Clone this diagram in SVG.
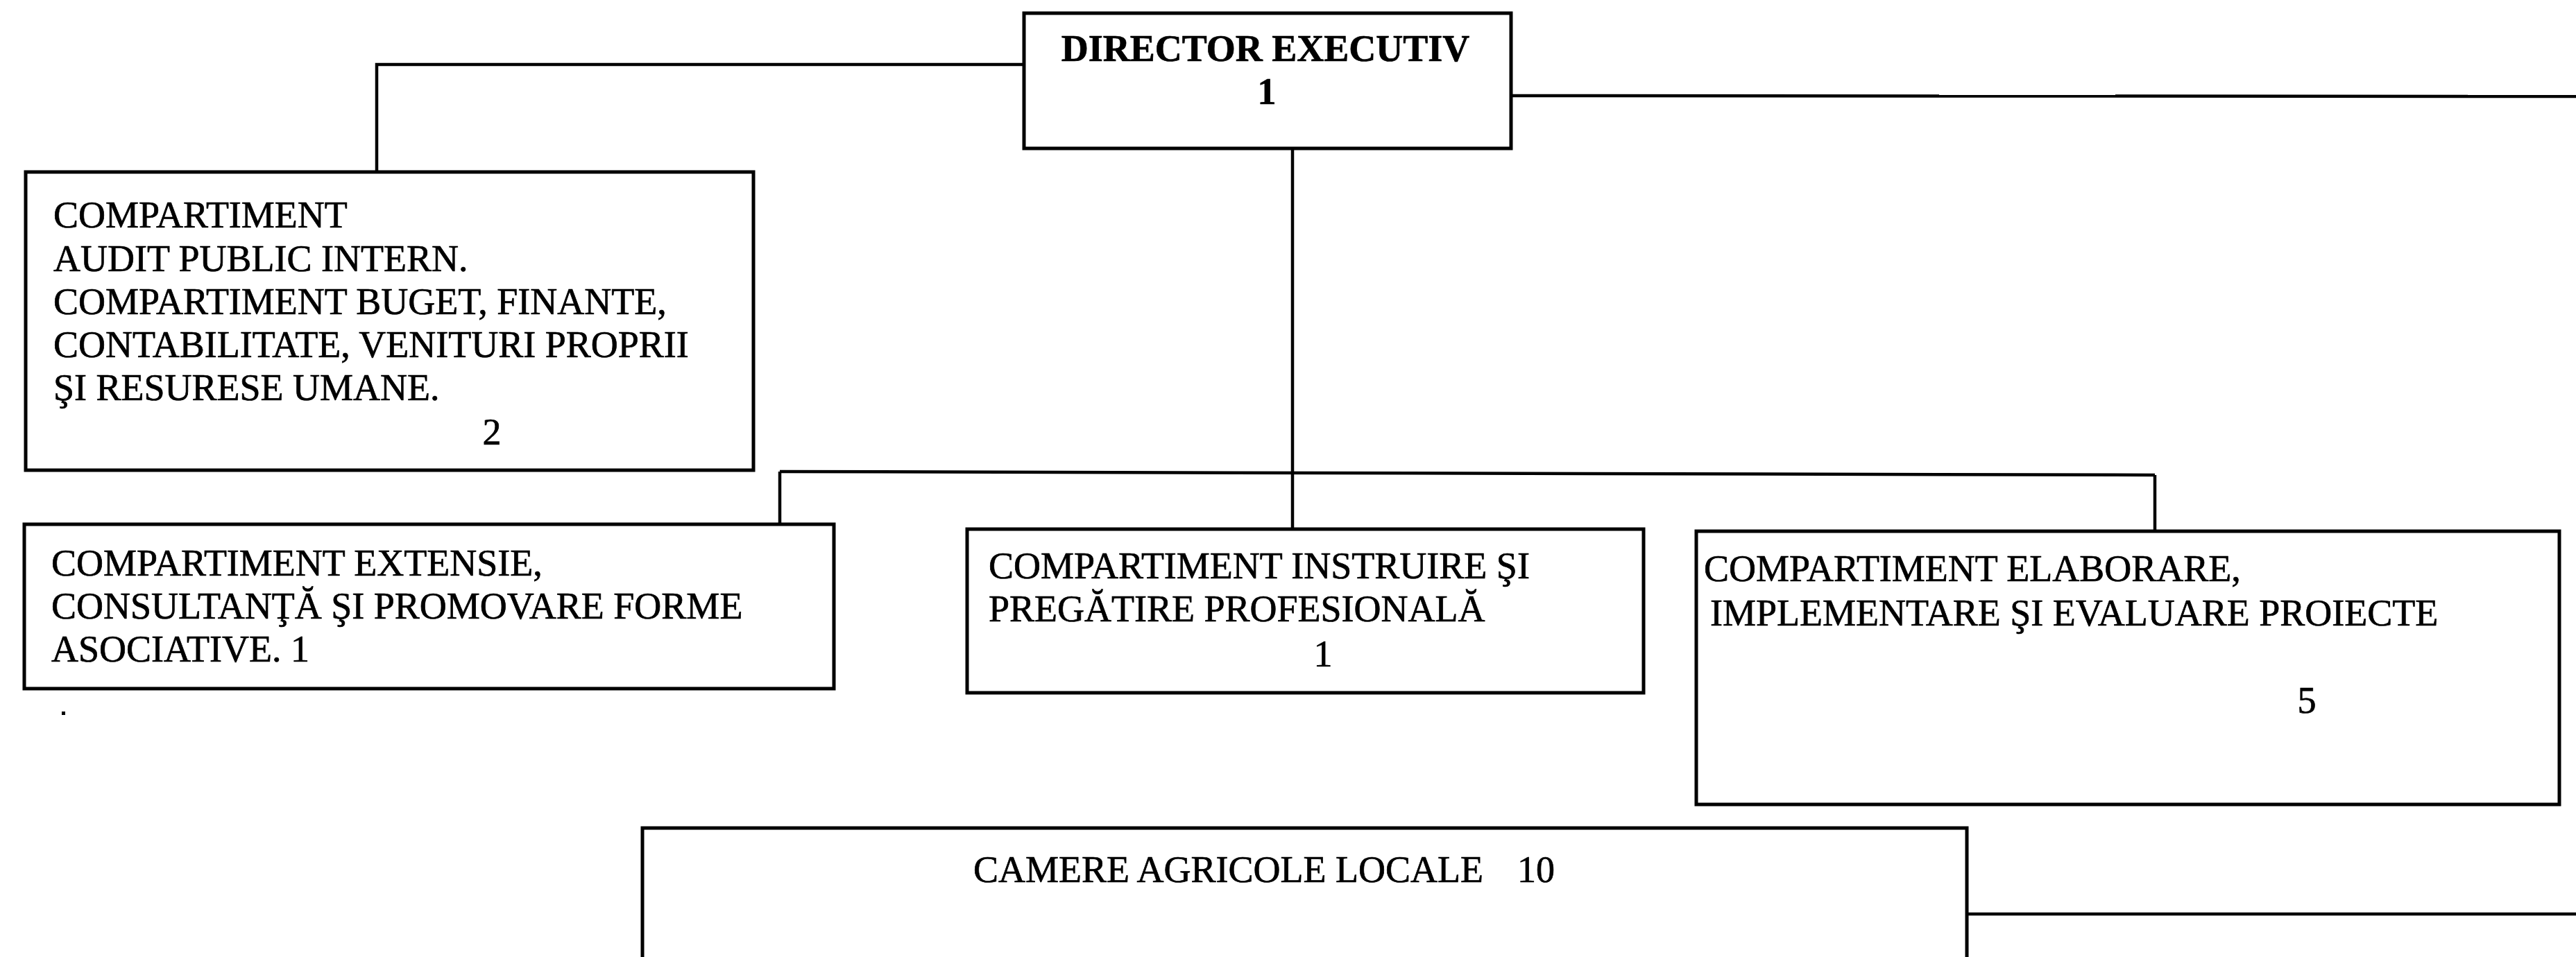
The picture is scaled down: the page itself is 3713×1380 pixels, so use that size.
<svg xmlns="http://www.w3.org/2000/svg" width="3713" height="1380" viewBox="0 0 3713 1380">
<style>
.box{fill:#fff;stroke:#000;stroke-width:5}
.ln{fill:none;stroke:#000;stroke-width:4.5}
.t{font-family:"Liberation Serif","Times New Roman",serif;font-size:54px;fill:#000;stroke:#000;stroke-width:0.7}
.b{font-weight:bold}
.m{text-anchor:middle}
</style>
<rect width="3713" height="1380" fill="#fff"/>
<g id="connectors">
<polyline class="ln" points="1476,93 543,93 543,248"/>
<line class="ln" x1="2178" y1="138" x2="3713" y2="139"/>
<line class="ln" x1="1863" y1="214" x2="1863" y2="763"/>
<line class="ln" x1="1124" y1="680" x2="3106" y2="685"/>
<line class="ln" x1="1124" y1="680" x2="1124" y2="756"/>
<line class="ln" x1="3106" y1="685" x2="3106" y2="766"/>
<line class="ln" x1="2835" y1="1318" x2="3713" y2="1318"/>
</g>
<g id="director">
<rect class="box" x="1476" y="19" width="702" height="195"/>
<text class="t b m" x="1824" y="88">DIRECTOR EXECUTIV</text>
<text class="t b m" x="1826" y="150">1</text>
</g>
<g id="audit">
<rect class="box" x="37" y="248" width="1049" height="430"/>
<text class="t" x="77" y="328">COMPARTIMENT</text>
<text class="t" x="77" y="391">AUDIT PUBLIC INTERN.</text>
<text class="t" x="77" y="453">COMPARTIMENT BUGET, FINANTE,</text>
<text class="t" x="77" y="515">CONTABILITATE, VENITURI PROPRII</text>
<text class="t" x="77" y="577">ŞI RESURESE UMANE.</text>
<text class="t m" x="709" y="641">2</text>
</g>
<g id="extensie">
<rect class="box" x="35" y="756" width="1167" height="237"/>
<text class="t" x="74" y="830">COMPARTIMENT EXTENSIE,</text>
<text class="t" x="74" y="892">CONSULTANŢĂ ŞI PROMOVARE FORME</text>
<text class="t" x="74" y="954">ASOCIATIVE. 1</text>
</g>
<g id="instruire">
<rect class="box" x="1394" y="763" width="975" height="236"/>
<text class="t" x="1425" y="834">COMPARTIMENT INSTRUIRE ŞI</text>
<text class="t" x="1425" y="896">PREGĂTIRE PROFESIONALĂ</text>
<text class="t m" x="1907" y="961">1</text>
</g>
<g id="elaborare">
<rect class="box" x="2445" y="766" width="1244" height="394"/>
<text class="t" x="2456" y="838">COMPARTIMENT ELABORARE,</text>
<text class="t" x="2465" y="902">IMPLEMENTARE ŞI EVALUARE PROIECTE</text>
<text class="t m" x="3325" y="1028">5</text>
</g>
<g id="camere">
<rect class="box" x="926" y="1194" width="1909" height="230"/>
<text class="t" x="1403" y="1272">CAMERE AGRICOLE LOCALE</text>
<text class="t" x="2187" y="1272">10</text>
</g>
<rect x="89" y="1026" width="5" height="5" fill="#000"/>
</svg>
